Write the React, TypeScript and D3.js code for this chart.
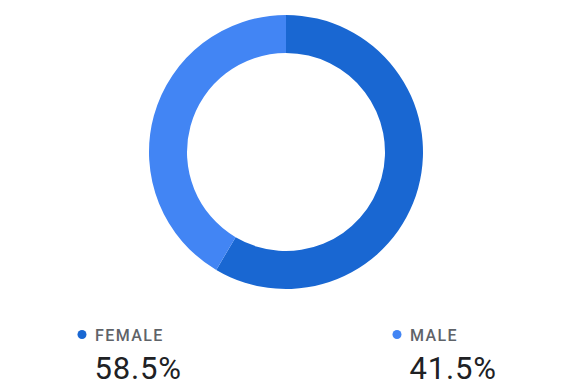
import * as d3 from "d3"
import { useRef, useEffect } from "react"

const labels = ["FEMALE", "MALE"]
const shares = [58.5, 41.5]
const colors = ["#1967d2", "#4285f4"]

export default function App() {
  const svgRef = useRef<SVGSVGElement>(null)

  useEffect(() => {
    if (!svgRef.current) return
    const width = 583
    const height = 387
    const cx = 286
    const cy = 152
    const outerR = 137
    const innerR = 99

    const svg = d3.select(svgRef.current)
    svg.selectAll("*").remove()
    svg.attr("width", width).attr("height", height).attr("viewBox", `0 0 ${width} ${height}`)

    const data = labels.map((label, i) => ({ label, value: shares[i], color: colors[i] }))

    const pie = d3
      .pie<{ label: string; value: number; color: string }>()
      .sort(null)
      .value((d) => d.value)
    const arc = d3
      .arc<d3.PieArcDatum<{ label: string; value: number; color: string }>>()
      .innerRadius(innerR)
      .outerRadius(outerR)

    svg
      .append("g")
      .attr("transform", `translate(${cx},${cy})`)
      .selectAll("path")
      .data(pie(data))
      .enter()
      .append("path")
      .attr("d", arc)
      .attr("fill", (d) => d.data.color)

    // legend: two columns under the ring
    const legendX = d3.scalePoint<string>().domain(labels).range([82, 397])

    const legend = svg
      .append("g")
      .selectAll("g")
      .data(data)
      .enter()
      .append("g")
      .attr("transform", (d) => `translate(${legendX(d.label)},0)`)

    legend
      .append("circle")
      .attr("cx", 0)
      .attr("cy", 334.5)
      .attr("r", 4.5)
      .attr("fill", (d) => d.color)

    legend
      .append("text")
      .attr("x", 13)
      .attr("y", 341)
      .text((d) => d.label)
      .style("font-family", "Roboto, sans-serif")
      .style("font-size", "16px")
      .style("font-weight", 500)
      .style("letter-spacing", "1.4px")
      .style("fill", "#5f6368")

    legend
      .append("text")
      .attr("x", 12.5)
      .attr("y", 378.5)
      .text((d) => `${d.value.toFixed(1)}%`)
      .style("font-family", "Roboto, sans-serif")
      .style("font-size", "31px")
      .style("font-weight", 400)
      .style("letter-spacing", "0.8px")
      .style("fill", "#202124")
  }, [])

  return (
    <div style={{ position: "absolute", left: 0, top: 0 }}>
      <svg ref={svgRef}></svg>
    </div>
  )
}
